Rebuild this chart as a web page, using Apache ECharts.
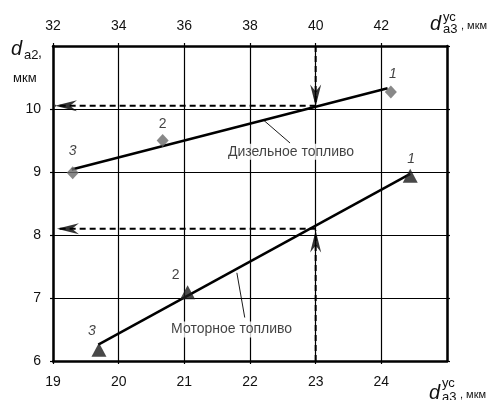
<!DOCTYPE html>
<html><head><meta charset="utf-8">
<script src="https://cdn.jsdelivr.net/npm/echarts@6/dist/echarts.min.js"></script>
<style>html,body{margin:0;padding:0;background:#fff}#c{width:502px;height:400px}</style>
</head><body><div id="c"></div>
<script>
// ---- data ----
const bottomTicks = [19, 20, 21, 22, 23, 24];          // d_a3 motor scale
const topTicks = [32, 34, 36, 38, 40, 42];             // d_a3 diesel scale
const yTicks = [6, 7, 8, 9, 10];
const pointLabels = ['1', '2', '3'];
const dieselPoints = [[42.29, 10.27], [35.34, 9.50], [32.60, 8.99]];
const dieselFit = [[32.57, 9.04], [42.19, 10.33]];
const motorPoints = [[24.44, 8.94], [21.05, 7.09], [19.70, 6.18]];
const motorFit = [[19.69, 6.26], [24.44, 8.97]];
const dieselGuideV = [[40, 11], [40, 10.04]];
const dieselGuideH = [[40, 10.05], [32.06, 10.05]];
const motorGuideV = [[23, 6], [23, 8.07]];
const motorGuideH = [[23, 8.10], [19.06, 8.10]];
const dieselNote = { text: 'Дизельное топливо', at: [39.25, 9.32], leader: [[38.42, 9.82], [39.22, 9.46]] };
const motorNote = { text: 'Моторное топливо', at: [21.72, 6.50], leader: [[21.80, 7.40], [21.92, 6.69]] };

const FONT = 'Liberation Sans, Arial, sans-serif';
const chart = echarts.init(document.getElementById('c'), null, { renderer: 'canvas' });

const arrowLeft = 'path://M0,5.5 L22,0 L15,5.5 L22,11 Z';
const arrowDown = 'path://M5.5,22 L0,0 L5.5,7 L11,0 Z';
const arrowUp = 'path://M5.5,0 L0,22 L5.5,15 L11,22 Z';

const ptLabelOffsets = {
  diesel: [[2, 0], [0, 1], [0, -4]],
  motor: [[1, 0], [-12, 0], [-7, -2]]
};
const ptLabelItalic = [true, false, true];

function pts(arr, kind) {
  return arr.map((p, i) => ({
    value: p,
    label: { formatter: pointLabels[i], offset: ptLabelOffsets[kind][i], fontStyle: ptLabelItalic[i] ? 'italic' : 'normal' }
  }));
}

function axisBase(margin, showLabel) {
  return {
    axisLine: { show: true, onZero: false, lineStyle: { color: '#000', width: 2.5 } },
    axisTick: { show: true, length: 3, lineStyle: { color: '#000', width: 1.2 } },
    axisLabel: { show: showLabel, color: '#111', fontSize: 14, fontFamily: FONT, margin: margin, showMaxLabel: false }
  };
}

const dashStyle = { color: '#000', width: 2, type: [6, 4] };

chart.setOption({
  animation: false,
  grid: { left: 53, right: 55, top: 46, bottom: 39, containLabel: false },
  xAxis: [
    Object.assign(axisBase(14, true), { type: 'value', position: 'bottom', min: 19, max: 25, interval: 1,
      splitLine: { show: true, lineStyle: { color: '#000', width: 1.2 } } }),
    Object.assign(axisBase(13, true), { type: 'value', position: 'top', min: 32, max: 44, interval: 2,
      splitLine: { show: false } })
  ],
  yAxis: [
    Object.assign(axisBase(12, true), { type: 'value', position: 'left', min: 6, max: 11, interval: 1,
      splitLine: { show: true, lineStyle: { color: '#000', width: 1.2 } } }),
    Object.assign(axisBase(8, false), { type: 'value', position: 'right', min: 6, max: 11, interval: 1,
      splitLine: { show: false } })
  ],
  series: [
    // guide dashed lines
    { type: 'line', xAxisIndex: 1, yAxisIndex: 0, data: dieselGuideV, symbol: 'none', lineStyle: dashStyle, z: 3 },
    { type: 'line', xAxisIndex: 1, yAxisIndex: 0, data: dieselGuideH, symbol: 'none', lineStyle: dashStyle, z: 3 },
    { type: 'line', xAxisIndex: 0, yAxisIndex: 0, data: motorGuideV, symbol: 'none', lineStyle: dashStyle, z: 3 },
    { type: 'line', xAxisIndex: 0, yAxisIndex: 0, data: motorGuideH, symbol: 'none', lineStyle: dashStyle, z: 3 },
    // arrowheads at the guide ends
    { type: 'scatter', xAxisIndex: 1, yAxisIndex: 0, z: 6, itemStyle: { color: '#000' },
      data: [
        { value: dieselGuideV[1], symbol: arrowDown, symbolSize: [11, 22], symbolOffset: [0, -11] },
        { value: dieselGuideH[1], symbol: arrowLeft, symbolSize: [22, 11], symbolOffset: [11, 0] }
      ] },
    { type: 'scatter', xAxisIndex: 0, yAxisIndex: 0, z: 6, itemStyle: { color: '#000' },
      data: [
        { value: motorGuideV[1], symbol: arrowUp, symbolSize: [11, 22], symbolOffset: [0, 11] },
        { value: motorGuideH[1], symbol: arrowLeft, symbolSize: [22, 11], symbolOffset: [11, 0] }
      ] },
    // fit lines
    { type: 'line', xAxisIndex: 1, yAxisIndex: 0, data: dieselFit, symbol: 'none', lineStyle: { color: '#000', width: 2.5 }, z: 4 },
    { type: 'line', xAxisIndex: 0, yAxisIndex: 0, data: motorFit, symbol: 'none', lineStyle: { color: '#000', width: 2.5 }, z: 4 },
    // leader lines
    { type: 'line', xAxisIndex: 1, yAxisIndex: 0, data: dieselNote.leader, symbol: 'none', lineStyle: { color: '#000', width: 0.9 }, z: 4 },
    { type: 'line', xAxisIndex: 0, yAxisIndex: 0, data: motorNote.leader, symbol: 'none', lineStyle: { color: '#000', width: 0.9 }, z: 4 },
    // measured points
    { type: 'scatter', xAxisIndex: 1, yAxisIndex: 0, symbol: 'diamond', symbolSize: [12, 13], z: 5,
      itemStyle: { color: '#6a6a6a' },
      label: { show: true, position: 'top', distance: 4, color: '#111', fontSize: 14, fontFamily: FONT },
      data: pts(dieselPoints, 'diesel') },
    { type: 'scatter', xAxisIndex: 0, yAxisIndex: 0, symbol: 'triangle', symbolSize: [15, 14], z: 5,
      itemStyle: { color: '#1a1a1a' },
      label: { show: true, position: 'top', distance: 3, color: '#111', fontSize: 14, fontFamily: FONT },
      data: pts(motorPoints, 'motor') },
    // annotation texts
    { type: 'scatter', xAxisIndex: 1, yAxisIndex: 0, symbolSize: 0, z: 7,
      label: { show: true, position: 'inside', formatter: dieselNote.text, color: '#111', fontSize: 14, fontFamily: FONT,
        backgroundColor: '#fff', padding: [1, 2] },
      data: [dieselNote.at] },
    { type: 'scatter', xAxisIndex: 0, yAxisIndex: 0, symbolSize: 0, z: 7,
      label: { show: true, position: 'inside', formatter: motorNote.text, color: '#111', fontSize: 14, fontFamily: FONT,
        backgroundColor: '#fff', padding: [1, 2] },
      data: [motorNote.at] }
  ],
  graphic: [
    // top-right axis name
    { type: 'text', x: 430, y: 24, style: { text: 'd', font: 'italic 20px ' + FONT, fill: '#111', align: 'left', verticalAlign: 'middle' } },
    { type: 'text', x: 443, y: 17, style: { text: 'ус', font: '13px ' + FONT, fill: '#111', align: 'left', verticalAlign: 'middle' } },
    { type: 'text', x: 443, y: 29, style: { text: 'а3', font: '13px ' + FONT, fill: '#111', align: 'left', verticalAlign: 'middle' } },
    { type: 'text', x: 461, y: 26, style: { text: ', мкм', font: '11px ' + FONT, fill: '#111', align: 'left', verticalAlign: 'middle' } },
    // bottom-right axis name
    { type: 'text', x: 429, y: 393, style: { text: 'd', font: 'italic 20px ' + FONT, fill: '#111', align: 'left', verticalAlign: 'middle' } },
    { type: 'text', x: 442, y: 383, style: { text: 'ус', font: '13px ' + FONT, fill: '#111', align: 'left', verticalAlign: 'middle' } },
    { type: 'text', x: 442, y: 397, style: { text: 'а3', font: '13px ' + FONT, fill: '#111', align: 'left', verticalAlign: 'middle' } },
    { type: 'text', x: 460, y: 395, style: { text: ', мкм', font: '11px ' + FONT, fill: '#111', align: 'left', verticalAlign: 'middle' } },
    // left axis name
    { type: 'text', x: 11, y: 49, style: { text: 'd', font: 'italic 20px ' + FONT, fill: '#111', align: 'left', verticalAlign: 'middle' } },
    { type: 'text', x: 24, y: 55, style: { text: 'а2', font: '13px ' + FONT, fill: '#111', align: 'left', verticalAlign: 'middle' } },
    { type: 'text', x: 38, y: 53, style: { text: ',', font: '14px ' + FONT, fill: '#111', align: 'left', verticalAlign: 'middle' } },
    { type: 'text', x: 13, y: 78, style: { text: 'мкм', font: '13px ' + FONT, fill: '#111', align: 'left', verticalAlign: 'middle' } }
  ]
});
</script></body></html>
